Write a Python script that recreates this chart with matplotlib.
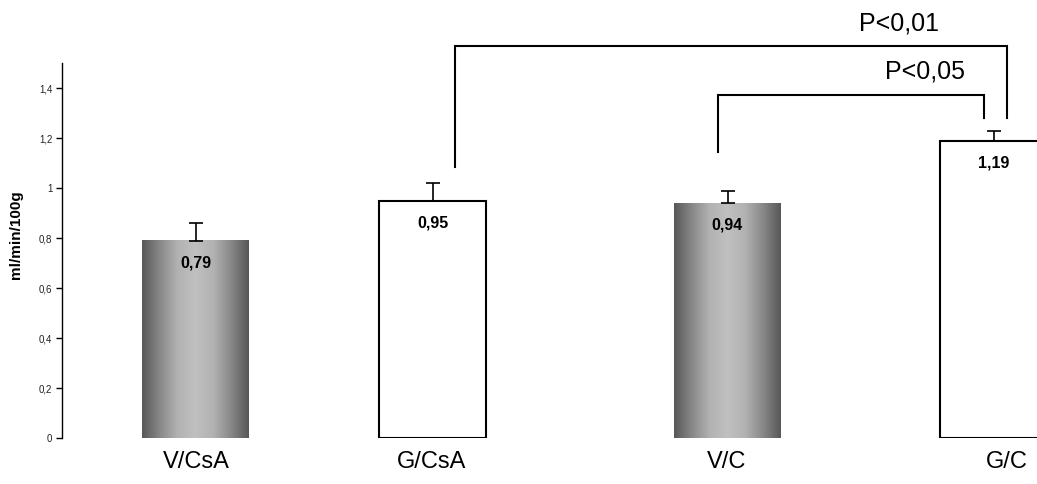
import numpy as np
import matplotlib
matplotlib.use("Agg")
import matplotlib.pyplot as plt
from matplotlib.colors import LinearSegmentedColormap

# ---- data ----
categories = ["V/CsA", "G/CsA", "V/C", "G/C"]
values = [0.79, 0.95, 0.94, 1.19]
errors = [0.07, 0.07, 0.05, 0.04]
value_labels = ["0,79", "0,95", "0,94", "1,19"]
shaded = [True, False, True, False]
yticks = [0, 0.2, 0.4, 0.6, 0.8, 1.0, 1.2, 1.4]
ytick_labels = ["0", "0,2", "0,4", "0,6", "0,8", "1", "1,2", "1,4"]
sig_labels = ["P<0,01", "P<0,05"]

# ---- layout ----
W, H = 1037, 484
plt.rcParams['font.family'] = ['Liberation Sans', 'DejaVu Sans']
fig = plt.figure(figsize=(W / 100, H / 100), dpi=100)
ax = fig.add_axes([62 / W, (H - 438) / H, (W - 62) / W, (438 - 63) / H])
ax.set_xlim(62, 1037)
ax.set_ylim(0, 1.5)

xpos = [195.5, 432.5, 727.5, 993.5]
label_x = [196, 432, 727, 1007]
bw = 107

cmap = LinearSegmentedColormap.from_list(
    "g", ["#585858", "#888888", "#b2b2b2", "#c0c0c0", "#b2b2b2", "#888888", "#585858"])
grad = np.linspace(0, 1, 256)[None, :]

for x, v, e, lab, sh in zip(xpos, values, errors, value_labels, shaded):
    if sh:
        ax.imshow(grad, extent=[x - bw / 2, x + bw / 2, 0, v], aspect='auto',
                  cmap=cmap, zorder=2, interpolation='bilinear')
    else:
        ax.bar(x, v, width=bw, color='white', edgecolor='black', linewidth=1.5, zorder=2)
    ax.errorbar(x, v, yerr=[[0], [e]], fmt='none', ecolor='black', elinewidth=1.2,
                capsize=5, capthick=1.2, zorder=3)
    ax.text(x, v - 0.088, lab, ha='center', va='center', fontsize=11.5,
            fontweight='bold', zorder=4)

for lx, c in zip(label_x, categories):
    ax.text(lx, -0.095, c, ha='center', va='center', fontsize=17, clip_on=False)

# significance brackets
lw = 1.5
ax.plot([455, 455, 1007, 1007], [1.084, 1.568, 1.568, 1.28], color='black',
        lw=lw, clip_on=False, solid_joinstyle='miter')
ax.plot([718, 718, 984, 984], [1.144, 1.372, 1.372, 1.28], color='black',
        lw=lw, clip_on=False, solid_joinstyle='miter')
ax.text(899, 1.656, sig_labels[0], ha='center', va='center', fontsize=18, clip_on=False)
ax.text(925, 1.464, sig_labels[1], ha='center', va='center', fontsize=18, clip_on=False)

ax.set_yticks(yticks)
ax.set_yticklabels(ytick_labels, fontsize=7, color='#222222')
ax.set_xticks([])
ax.tick_params(axis='y', direction='out', length=4, width=1, pad=3)
for s in ['top', 'right', 'bottom']:
    ax.spines[s].set_visible(False)
ax.spines['left'].set_linewidth(1)
ax.set_ylabel("ml/min/100g", fontsize=11, fontweight='bold')
ax.yaxis.set_label_coords(-0.04, 0.541)

fig.savefig("out.png", dpi=100)
